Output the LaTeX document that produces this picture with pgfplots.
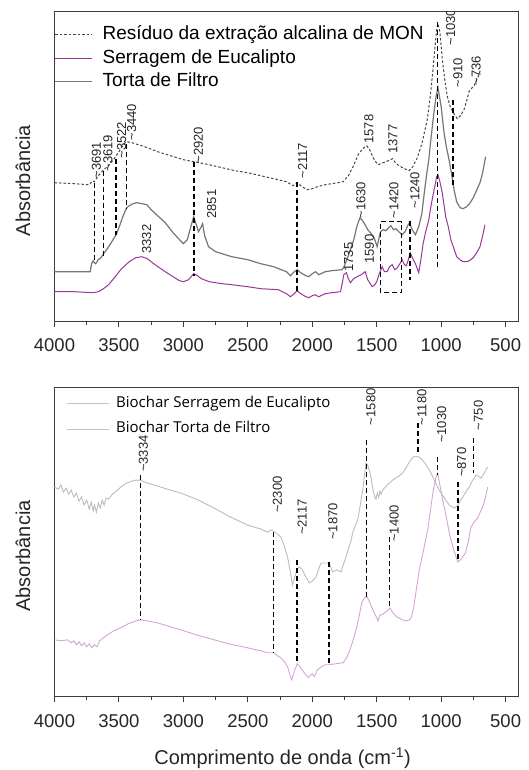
\documentclass[border=0pt]{standalone}
\usepackage{pgfplots}
\pgfplotsset{compat=1.18}
\usepackage{fontspec}
\setmainfont{Liberation Sans}
\newfontfamily\opensans{Open Sans}
\definecolor{torta}{RGB}{118,118,118}
\definecolor{serr}{RGB}{150,55,150}
\definecolor{mon}{RGB}{70,70,70}
\definecolor{bgray}{RGB}{188,188,188}
\definecolor{bpink}{RGB}{212,165,212}
\definecolor{leggray}{RGB}{195,195,195}
\definecolor{axiscol}{RGB}{60,60,60}
\pgfplotsset{
  myax/.style={
    scale only axis, width=463.5pt, x dir=reverse,
    xmin=404, xmax=4000, ymin=0, ymax=310,
    xtick={500,1000,...,4000}, minor xtick={750,1250,...,3750}, ytick=\empty,
    xtick pos=left, tick align=outside,
    major tick length=5pt, minor tick length=3.3pt,
    axis line style={color=axiscol, line width=0.9pt},
    every tick/.style={color=axiscol, line width=0.9pt},
    tick label style={font=\fontsize{18.5}{20}\selectfont, text=black!85},
    xticklabel shift=8pt,
    /pgf/number format/assume math mode=true,
    /pgf/number format/1000 sep={},
    scaled x ticks=false,
    ylabel={Absorbância},
    ylabel style={at={(axis description cs:-0.068,0.455)}, anchor=center, font=\fontsize{20}{22}\selectfont, text=black!85},
  },
  mk/.style={black, line width=1.6pt, dash pattern=on 5pt off 3pt, forget plot},
}
\tikzset{lab/.style={rotate=90, anchor=west, font=\fontsize{13}{13}\selectfont, inner sep=0pt, text=black!85}}
\begin{document}
\begin{tikzpicture}
\path[use as bounding box] (0pt,0pt) rectangle (529pt,-770pt);
%================ TOP PANEL =================
\begin{axis}[myax, at={(54.5pt,-11.7pt)}, anchor=north west, height=310pt,
  legend style={at={(axis description cs:0,1)}, anchor=north west, yshift=-14pt,
    draw=none, fill=none, font=\fontsize{19}{21}\selectfont,
    inner xsep=0pt, inner ysep=0pt, row sep=5.5pt, column sep=0pt,
    nodes={inner sep=0pt, text height=14pt, text depth=4pt}},
  legend cell align=left,
  legend image code/.code={\draw[#1] (0pt,0pt) -- (37pt,0pt); \path (46.7pt,0pt);},
]
\addplot[mon, line width=1pt, dash pattern=on 2.5pt off 2pt] coordinates {
(4000,139) (3850,138) (3730,137) (3705,141) (3691,140) (3660,146) (3619,152) (3580,156) (3531,164) (3500,170) (3460,178) (3440,180) (3400,179) (3300,175) (3200,170) (3100,166) (3000,162) (2920,160) (2800,157) (2700,154) (2600,151) (2500,149) (2400,146) (2300,143) (2200,140) (2150,136) (2117,139) (2080,135) (2040,132) (2000,133) (1960,135) (1900,137) (1800,139) (1760,140) (1720,146) (1680,156) (1640,168) (1600,174) (1578,176) (1555,172) (1520,162) (1490,157) (1450,159) (1410,161) (1377,163) (1350,158) (1300,154) (1250,151) (1220,155) (1185,164) (1150,178) (1108,202) (1085,225) (1069,245) (1050,272) (1035,292) (1025,298) (1010,290) (991,262) (970,240) (952,225) (930,215) (901,208) (875,203) (850,206) (823,212) (800,222) (784,230) (760,234) (745,236) (730,240) (710,246) (695,252)
};
\addlegendentry{Resíduo da extração alcalina de MON}
\addplot[serr, line width=1pt] coordinates {
(4000,30) (3850,30) (3700,29) (3659,30) (3620,33) (3580,37) (3529,45) (3480,53) (3420,60) (3370,64) (3323,65) (3280,63) (3220,57) (3141,50) (3080,45) (3030,41) (3000,40) (2960,42) (2920,48) (2890,46) (2860,43) (2800,40) (2700,38) (2625,37) (2500,35) (2400,33) (2262,32) (2200,28) (2169,25) (2140,28) (2117,31) (2090,28) (2050,25) (2027,24) (2000,26) (1980,27) (1950,25) (1900,28) (1850,29) (1781,30) (1765,40) (1756,47) (1735,49) (1720,43) (1704,39) (1680,43) (1652,45) (1620,47) (1590,50) (1570,42) (1535,35) (1515,37) (1500,40) (1480,48) (1458,55) (1440,50) (1420,50) (1400,55) (1380,57) (1360,52) (1340,54) (1320,58) (1303,62) (1285,57) (1270,56) (1255,62) (1240,69) (1220,63) (1200,58) (1174,49) (1160,60) (1140,78) (1122,89) (1096,102) (1080,115) (1070,122) (1050,135) (1035,145) (1025,147) (1010,140) (990,128) (984,122) (965,105) (945,95) (925,82) (906,75) (880,65) (854,62) (830,60) (802,60) (780,61) (751,64) (720,70) (699,75) (680,85) (660,97)
};
\addlegendentry{Serragem de Eucalipto}
\addplot[torta, line width=1.2pt] coordinates {
(4000,50) (3850,50) (3723,50) (3712,58) (3700,61) (3691,59) (3680,58) (3660,62) (3640,64) (3619,68) (3590,73) (3560,79) (3522,87) (3500,94) (3470,105) (3440,114) (3420,116) (3390,118) (3362,119) (3320,118) (3284,117) (3250,112) (3200,106) (3141,99) (3080,89) (3030,82) (3000,78) (2970,82) (2940,96) (2920,105) (2900,97) (2883,90) (2865,94) (2851,98) (2835,86) (2805,75) (2750,70) (2700,68) (2625,65) (2500,62) (2400,58) (2300,55) (2200,50) (2169,46) (2140,50) (2117,52) (2090,49) (2050,46) (2027,45) (2000,48) (1975,50) (1950,47) (1900,50) (1850,51) (1768,52) (1750,56) (1742,59) (1720,66) (1700,74) (1678,82) (1655,95) (1630,104) (1610,101) (1590,97) (1570,92) (1549,89) (1520,84) (1497,75) (1485,82) (1471,90) (1450,92) (1430,91) (1407,94) (1390,96) (1370,92) (1350,93) (1329,90) (1303,87) (1280,90) (1260,96) (1246,99) (1225,92) (1200,87) (1174,95) (1150,108) (1130,130) (1110,150) (1096,162) (1082,180) (1060,205) (1040,225) (1025,234) (1000,215) (978,189) (960,175) (939,162) (920,148) (900,132) (880,120) (854,114) (830,113) (802,115) (780,118) (751,124) (730,130) (699,139) (680,148) (655,165)
};
\addlegendentry{Torta de Filtro}
% marker lines
\addplot[mk] coordinates {(3691,139) (3691,59)};
\addplot[mk] coordinates {(3619,151) (3619,66)};
\addplot[mk] coordinates {(3522,163) (3522,87)};
\addplot[mk] coordinates {(3440,178) (3440,113)};
\addplot[mk] coordinates {(2920,160) (2920,46)};
\addplot[mk] coordinates {(2117,140) (2117,30)};
\addplot[mk] coordinates {(1240,101) (1240,42)};
\addplot[mk] coordinates {(1030,300) (1030,55)};
\addplot[mk] coordinates {(910,222) (910,135)};
\addplot[black, line width=1.2pt, dash pattern=on 5pt off 3pt, forget plot] coordinates {(1472,29) (1472,100) (1306,100) (1306,29) (1472,29)};
% labels
\node[lab] at (axis cs:3674,143) {\textasciitilde3691};
\node[lab] at (axis cs:3585,150) {\textasciitilde3619};
\node[lab] at (axis cs:3479,163) {\textasciitilde3522};
\node[lab] at (axis cs:3401,181) {\textasciitilde3440};
\node[lab] at (axis cs:3285,68) {3332};
\node[lab] at (axis cs:2884,158) {\textasciitilde2920};
\node[lab] at (axis cs:2780,103) {2851};
\node[lab] at (axis cs:2075,143) {\textasciitilde2117};
\node[lab] at (axis cs:1560,178) {1578};
\node[lab] at (axis cs:1374,168) {1377};
\node[lab] at (axis cs:1622,103) {\textasciitilde1630};
\node[lab] at (axis cs:1366,103) {\textasciitilde1420};
\node[lab] at (axis cs:1203,113) {\textasciitilde1240};
\node[lab] at (axis cs:1717,50) {1735};
\node[lab] at (axis cs:1556,58) {1590};
\node[lab] at (axis cs:926,276) {\textasciitilde1030};
\node[lab] at (axis cs:871,234) {\textasciitilde910};
\node[lab] at (axis cs:728,236) {\textasciitilde736};
\end{axis}
%================ BOTTOM PANEL =================
\begin{axis}[myax, at={(54.5pt,-387.3pt)}, anchor=north west, height=309.4pt,
  xticklabel shift=9pt,
  xlabel={Comprimento de onda (cm\textsuperscript{-1})},
  xlabel style={at={(axis description cs:0.492,0)}, anchor=base, yshift=-68pt, font=\fontsize{20}{22}\selectfont, text=black!85},
  legend style={at={(axis description cs:0,1)}, anchor=north west, yshift=-8.9pt, xshift=12.2pt,
    draw=none, fill=none, font=\opensans\fontsize{15}{17}\selectfont,
    inner xsep=0pt, inner ysep=0pt, row sep=10.8pt, column sep=0pt,
    nodes={inner sep=0pt, text height=11pt, text depth=3.5pt}},
  legend cell align=left,
  legend image code/.code={\draw[#1] (0pt,0pt) -- (41.6pt,0pt); \path (48.3pt,0pt);},
]
\addplot[bgray, line width=0.9pt, forget plot] coordinates {
(4000,210) (3970,208) (3950,212) (3930,205) (3910,209) (3890,203) (3870,207) (3850,200) (3830,204) (3810,196) (3790,200) (3770,192) (3750,197) (3730,188) (3715,195) (3700,186) (3690,192) (3675,185) (3660,194) (3645,189) (3630,197) (3615,192) (3600,199) (3580,198) (3550,203) (3520,206) (3486,210) (3440,214) (3400,216) (3369,217) (3334,217) (3279,214) (3200,211) (3100,207) (3020,204) (2900,198) (2761,189) (2650,181) (2503,172) (2400,168) (2348,165) (2320,167) (2300,166) (2270,163) (2244,160) (2220,152) (2192,140) (2170,125) (2154,112) (2140,118) (2117,128) (2100,130) (2077,127) (2050,120) (2023,114) (2000,116) (1971,120) (1950,128) (1932,134) (1900,134) (1870,134) (1842,125) (1810,127) (1777,125) (1760,132) (1739,140) (1720,148) (1700,156) (1687,164) (1670,170) (1648,177) (1630,190) (1609,207) (1595,222) (1583,234) (1570,232) (1555,226) (1545,220) (1535,212) (1525,205) (1515,200) (1506,198) (1495,204) (1485,200) (1475,206) (1465,203) (1454,207) (1420,212) (1376,217) (1340,220) (1299,224) (1270,230) (1248,235) (1220,240) (1201,241) (1170,240) (1144,237) (1110,231) (1079,224) (1050,216) (1015,207) (980,200) (937,192) (898,189) (870,192) (833,200) (800,207) (782,210) (760,216) (730,222) (710,221) (691,219) (670,223) (650,228) (639,230)
};
\addplot[bpink, line width=0.9pt, forget plot] coordinates {
(4000,57) (3950,56) (3900,57) (3870,54) (3850,56) (3830,52) (3810,55) (3790,51) (3770,54) (3750,50) (3730,53) (3710,49) (3692,52) (3670,50) (3650,56) (3620,59) (3589,62) (3540,66) (3486,69) (3430,73) (3369,76) (3334,77) (3280,76) (3201,74) (3100,70) (3020,67) (2900,62) (2761,57) (2650,53) (2503,49) (2400,46) (2348,44) (2300,44) (2270,41) (2244,39) (2210,34) (2192,30) (2173,22) (2160,17) (2150,21) (2135,27) (2117,33) (2100,31) (2080,27) (2050,22) (2030,19) (2018,21) (2000,23) (1985,20) (1960,27) (1930,30) (1900,32) (1870,32) (1820,33) (1760,34) (1730,40) (1708,47) (1680,58) (1655,70) (1635,82) (1617,94) (1600,98) (1578,101) (1560,96) (1540,90) (1520,84) (1500,79) (1490,76) (1475,82) (1461,82) (1440,84) (1420,86) (1397,89) (1375,84) (1345,80) (1300,77) (1268,76) (1245,77) (1230,80) (1210,92) (1190,110) (1170,127) (1140,145) (1105,167) (1080,190) (1061,207) (1040,220) (1027,224) (1010,212) (988,197) (960,180) (937,164) (905,148) (872,135) (850,137) (812,144) (790,155) (769,170) (745,175) (717,179) (700,184) (678,190) (660,198) (639,210)
};
\addlegendimage{leggray, line width=0.9pt}
\addlegendentry{Biochar Serragem de Eucalipto}
\addlegendimage{leggray, line width=0.9pt}
\addlegendentry{Biochar Torta de Filtro}
% marker lines
\addplot[mk] coordinates {(3334,222) (3334,77)};
\addplot[mk] coordinates {(2300,165) (2300,44)};
\addplot[mk] coordinates {(2117,137) (2117,33)};
\addplot[mk] coordinates {(1870,135) (1870,32)};
\addplot[mk] coordinates {(1580,257) (1580,100)};
\addplot[mk] coordinates {(1400,160) (1400,89)};
\addplot[mk] coordinates {(1180,274) (1180,242)};
\addplot[mk] coordinates {(1030,240) (1030,222)};
\addplot[mk] coordinates {(870,215) (870,137)};
\addplot[mk] coordinates {(750,259) (750,224)};
% labels
\node[lab] at (axis cs:3310,225) {\textasciitilde3334};
\node[lab] at (axis cs:2270,184) {\textasciitilde2300};
\node[lab] at (axis cs:2080,162) {\textasciitilde2117};
\node[lab] at (axis cs:1840,157) {\textasciitilde1870};
\node[lab] at (axis cs:1545,272) {\textasciitilde1580};
\node[lab] at (axis cs:1365,155) {\textasciitilde1400};
\node[lab] at (axis cs:1150,272) {\textasciitilde1180};
\node[lab] at (axis cs:996,254) {\textasciitilde1030};
\node[lab] at (axis cs:841,220) {\textasciitilde870};
\node[lab] at (axis cs:712,267) {\textasciitilde750};
\end{axis}
\end{tikzpicture}
\end{document}
